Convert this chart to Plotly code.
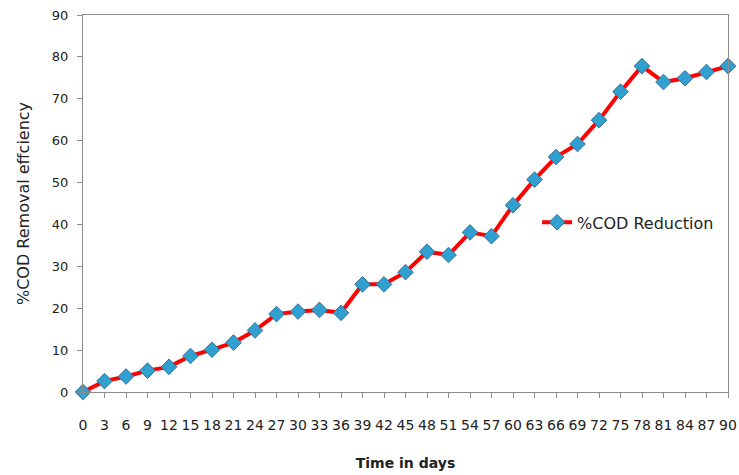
import plotly.graph_objects as go

days = [0, 3, 6, 9, 12, 15, 18, 21, 24, 27, 30, 33, 36, 39, 42, 45, 48, 51, 54, 57,
        60, 63, 66, 69, 72, 75, 78, 81, 84, 87, 90]
cod_reduction = [0, 2.6, 3.7, 5.1, 6.0, 8.6, 10.1, 11.8, 14.7, 18.6, 19.2, 19.6, 18.9,
                 25.7, 25.7, 28.6, 33.5, 32.7, 38.1, 37.2, 44.6, 50.7, 56.1, 59.2, 64.9,
                 71.7, 77.8, 74.0, 74.9, 76.4, 77.8]
y_ticks = [0, 10, 20, 30, 40, 50, 60, 70, 80, 90]

fig = go.Figure()
fig.add_trace(go.Scatter(
    x=days, y=cod_reduction, mode="lines+markers", name="%COD Reduction",
    line=dict(color="#ff0000", width=4),
    marker=dict(symbol="diamond", size=12, color="#2fa0d0",
                line=dict(color="#3a6f9a", width=1)),
    cliponaxis=False,
))

axis_common = dict(showline=True, linecolor="#8c8c8c", linewidth=1, mirror=True,
                   showgrid=False, zeroline=False, ticks="outside", ticklen=5,
                   tickcolor="#8c8c8c", automargin=False)

fig.update_layout(
    width=739, height=475,
    margin=dict(l=83, r=11, t=15, b=83),
    paper_bgcolor="white", plot_bgcolor="white",
    font=dict(family="DejaVu Sans", color="#222222"),
    showlegend=True,
    legend=dict(x=0.704, y=0.45, xanchor="left", yanchor="middle",
                bgcolor="rgba(0,0,0,0)", font=dict(size=16)),
    xaxis=dict(range=[0, 90], tickvals=days, ticktext=[str(d) for d in days],
               tickangle=0, tickfont=dict(size=14), ticklabelstandoff=15,
               title=dict(text="<b>Time in days</b>", font=dict(size=14), standoff=26),
               **axis_common),
    yaxis=dict(range=[0, 90], tickvals=y_ticks, tickfont=dict(size=13),
               ticklabelstandoff=6,
               title=dict(text="%COD Removal effciency", font=dict(size=16), standoff=18),
               **axis_common),
)

fig.write_html("out.html", config={"displayModeBar": False},
               post_script="document.body.style.margin='0';document.body.style.overflow='hidden';")
